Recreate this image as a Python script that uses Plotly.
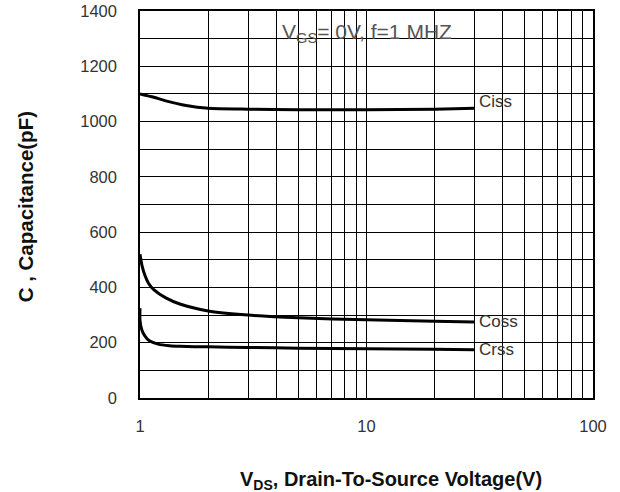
import math
import plotly.graph_objects as go

vds_ciss = [1.0, 1.15, 1.3, 1.6, 2.0, 3.0, 5.0, 10.0, 20.0, 30.0]
ciss = [1100, 1088, 1075, 1058, 1048, 1045, 1043, 1043, 1045, 1048]

vds_coss = [1.0, 1.02, 1.05, 1.09, 1.15, 1.3, 1.5, 2.0, 3.0, 5.0, 10.0, 20.0, 30.0]
coss = [520, 480, 445, 415, 392, 362, 340, 315, 300, 290, 283, 278, 275]

vds_crss = [1.0, 1.0, 1.02, 1.05, 1.1, 1.2, 1.35, 1.5, 2.0, 3.0, 5.0, 10.0, 20.0, 30.0]
crss = [325, 280, 245, 225, 207, 195, 189, 187, 185, 183, 180, 178, 176, 175]

x_tickvals = [1, 2, 3, 4, 5, 6, 7, 8, 9, 10, 20, 30, 40, 50, 60, 70, 80, 90, 100]
x_ticktext = ["1", "", "", "", "", "", "", "", "", "10", "", "", "", "", "", "", "", "", "100"]
y_tickvals = list(range(0, 1401, 100))
y_ticktext = [str(v) if v % 200 == 0 else "" for v in y_tickvals]

series = [("Ciss", vds_ciss, ciss, 7), ("Coss", vds_coss, coss, 0), ("Crss", vds_crss, crss, 0)]

fig = go.Figure()
for name, xs, ys, ysh in series:
    fig.add_trace(go.Scatter(x=xs, y=ys, mode="lines", name=name,
                             line=dict(color="black", width=3.0, shape="spline", smoothing=0.6),
                             showlegend=False))
    fig.add_annotation(x=math.log10(xs[-1]), y=ys[-1], text=name, showarrow=False, xanchor="left",
                       xshift=2, yshift=ysh,
                       font=dict(family="Liberation Sans, Arial", size=17, color="#333"))

fig.add_annotation(x=math.log10(10), y=1322, text="V<sub>GS</sub>= 0V, f=1 MHZ", showarrow=False,
                   xanchor="center", yanchor="middle",
                   font=dict(family="Liberation Sans, Arial", size=21, color="#555"))

# axis titles
fig.add_annotation(xref="paper", yref="paper", x=0.554, y=-0.212, xanchor="center", yanchor="middle",
                   text="<b>V<sub>DS</sub>, Drain-To-Source Voltage(V)</b>", showarrow=False,
                   font=dict(family="Liberation Sans, Arial", size=20, color="#111"))
fig.add_annotation(xref="paper", yref="paper", x=-0.254, y=0.495, xanchor="center", yanchor="middle",
                   text="<b>C , Capacitance(pF)</b>", showarrow=False, textangle=-90,
                   font=dict(family="Liberation Sans, Arial", size=20.5, color="#111"))

fig.update_layout(
    width=620, height=492,
    margin=dict(l=140, r=27, t=11, b=94, autoexpand=False),
    paper_bgcolor="white", plot_bgcolor="white",
    font=dict(family="Liberation Sans, Arial", size=16.5, color="#333"),
)
fig.update_xaxes(type="log", range=[0, 2], tickvals=x_tickvals, ticktext=x_ticktext,
                 showgrid=True, gridcolor="black", gridwidth=1.3, showline=True, linecolor="black",
                 linewidth=1.5, mirror=True, ticks="", ticklabelstandoff=12, zeroline=False,
                 automargin=False)
fig.update_yaxes(range=[0, 1400], tickvals=y_tickvals, ticktext=y_ticktext,
                 showgrid=True, gridcolor="black", gridwidth=1.3, showline=True, linecolor="black",
                 linewidth=1.5, mirror=True, ticks="", ticklabelstandoff=18, zeroline=False,
                 automargin=False)

fig.write_html("out.html")
